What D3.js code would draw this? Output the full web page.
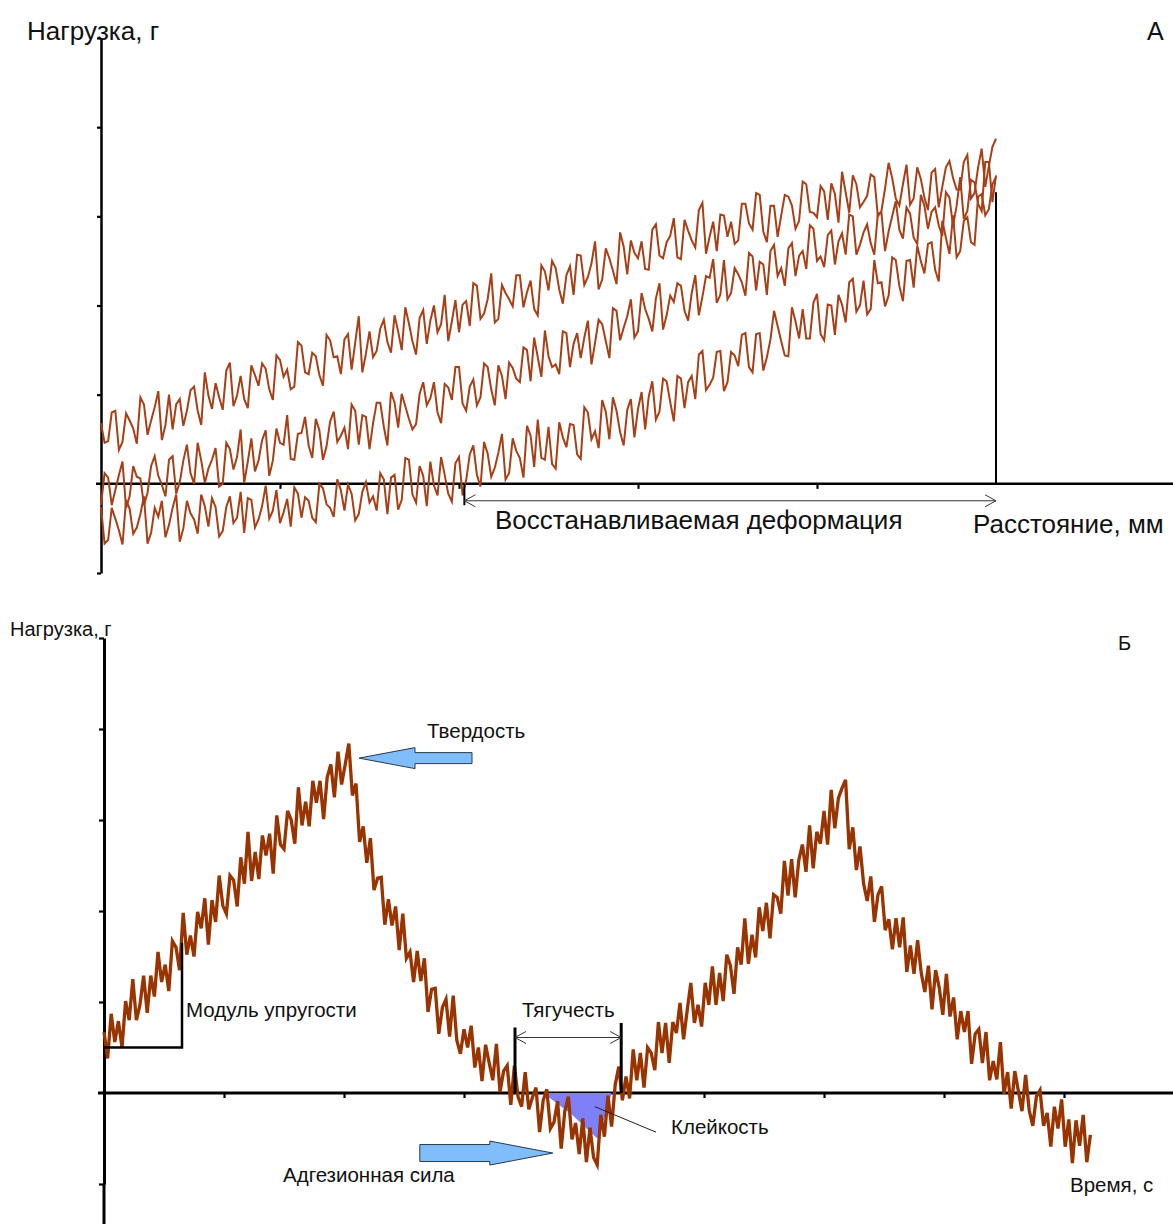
<!DOCTYPE html>
<html>
<head>
<meta charset="utf-8">
<script src="https://cdn.jsdelivr.net/npm/d3@7"></script>
<style>
    body { margin: 0; background: #fff; }
    text { font-family: Arial, "Liberation Sans", sans-serif; fill: #111; }
</style>
</head>
<body>
<svg id="chart" width="1173" height="1224"></svg>
<script>
// ---- данные, панель А (расстояние, мм / нагрузка, г) ----
const stepA = 0.02;
const xTicksA = [1, 2, 3, 4];
const yTicksA = [-100, 100, 200, 300, 400, 500];

// первое сжатие (верхняя кривая)
const loadA1 = [
    68,46,48,80,82,38,47,79,71,62,45,97,89,55,71,86,104,49,66,100,
    61,89,95,65,82,105,109,82,66,125,99,84,113,97,83,127,136,87,99,121,
    95,85,133,122,110,135,129,106,94,144,139,120,128,106,109,159,155,125,123,147,
    143,122,110,167,161,142,143,123,162,168,128,158,188,125,146,171,142,149,174,184,
    159,147,189,171,150,198,180,160,145,186,195,157,183,200,170,179,212,160,182,206,
    170,201,205,177,225,222,185,191,207,236,181,185,223,214,207,199,234,234,198,215,
    228,196,189,245,238,217,250,242,218,202,234,244,212,257,256,223,232,247,272,218,
    229,264,253,239,224,282,266,235,273,259,253,272,241,240,285,291,256,253,271,278,
    298,254,252,296,284,273,265,307,315,258,277,294,261,302,301,277,294,269,273,314,
    314,292,285,326,324,283,271,312,312,277,301,324,322,312,286,295,339,336,305,304,
    299,334,328,296,337,325,293,350,327,304,346,336,310,316,323,347,344,300,306,331,
    360,343,320,312,336,358,313,320,355,342,321,307,349,353,310,333,355,362,343,330,
    330,361,369,320,326,355,376,333,356,378,387
];
// второе сжатие (средняя кривая)
const loadA2 = [
    -24,12,7,-24,-7,10,25,-27,-14,20,8,6,-24,-10,20,31,9,-1,-14,27,
    31,-11,2,26,44,12,0,46,26,1,17,27,40,-3,0,46,39,16,30,61,
    1,25,51,14,26,49,60,9,26,62,46,44,77,28,27,56,57,75,43,29,
    73,60,27,42,70,81,47,54,63,39,89,82,44,77,75,39,68,91,91,64,
    43,103,91,63,101,87,73,61,67,101,114,88,96,114,80,68,112,108,94,131,
    131,90,82,109,117,88,97,135,131,106,88,133,121,95,136,130,118,114,153,150,
    115,164,142,120,172,143,131,134,123,171,169,131,157,169,141,164,183,134,158,184,
    179,160,141,197,194,161,175,188,207,164,171,214,196,185,171,208,225,173,189,211,
    204,225,222,194,183,214,234,189,210,233,231,252,203,212,251,207,214,242,235,226,
    211,259,255,217,249,246,212,261,268,233,242,222,264,270,233,256,261,241,290,286,
    250,255,243,279,284,246,272,281,257,302,300,257,268,282,291,270,257,303,304,261,
    283,300,317,285,275,310,303,276,269,324,312,286,305,310,290,278,327,321,289,312,
    344,297,306,341,338,314,306,361,361,316,346
];
// разгрузка (нижняя кривая)
const loadA3 = [
    -26,-67,-63,-27,-39,-52,-68,-18,-28,-56,-49,-34,-14,-67,-55,-27,-37,-19,-60,-46,
    -27,-12,-65,-50,-19,-33,-40,-56,-12,-25,-48,-16,-26,-59,-53,-26,-14,-44,-38,-9,
    -55,-16,-18,-49,-40,-25,-2,-39,-30,-7,-44,-32,-17,-48,-4,-11,-38,-15,-19,-38,
    -43,0,-5,-23,-27,-37,5,-7,-30,-1,-11,-41,-34,-9,2,-21,-14,-30,12,5,
    -34,7,10,-29,-18,29,27,-12,-21,20,9,-25,25,-2,-13,30,10,-11,-20,23,
    30,-13,4,33,43,10,-3,47,34,8,18,35,56,5,12,51,37,29,7,65,
    54,19,72,29,27,64,22,17,69,52,41,67,66,33,28,86,80,50,59,40,
    94,81,50,97,82,58,43,83,95,52,84,103,61,98,115,72,81,118,115,92,
    70,121,118,85,114,121,95,145,149,105,111,119,148,149,104,114,148,144,132,167,
    169,131,125,168,169,127,142,162,194,177,160,144,143,198,182,163,196,163,163,203,
    213,168,161,201,200,167,212,201,181,226,230,193,200,228,190,196,251,225,226,199,
    211,254,251,222,205,250,251,220,267,250,236,269,271,240,227,295,276,258,301,254,
    261,295,299,271,268,322,325,301,308,336,344
];
const recoverA = [2.03, 5];      // восстанавливаемая деформация, мм
const maxLineA = 327;            // вертикаль в точке максимума

// ---- данные, панель Б (время, с / нагрузка, г) ----
const stepB = 0.03;
const xTicksB = [1, 2, 3, 4, 5, 6, 7, 8];
const yTicksB = [-100, 100, 200, 300, 400, 500];
const loadB = [
    67,38,87,56,79,50,101,80,125,80,
    97,129,88,129,106,155,122,141,112,167,
    160,135,198,152,173,150,199,181,214,163,
    212,188,239,206,197,239,234,205,259,230,
    287,233,265,235,283,261,285,241,305,273,
    268,310,300,274,336,294,320,293,343,319,
    343,301,347,361,325,375,339,361,384,327,
    340,276,293,253,280,223,236,237,185,213,
    184,205,157,197,148,155,122,156,123,148,
    89,114,115,65,94,103,62,107,58,43,
    70,50,74,28,50,13,53,33,14,54,
    1,24,30,-13,30,-4,-15,23,-18,-5,
    6,-43,-8,4,-39,-32,-9,-61,-20,-4,
    -51,-33,-67,-28,-76,-38,-71,-79,-24,-48,
    -3,-37,9,29,-8,18,-6,48,14,44,
    6,50,44,25,78,44,77,33,78,66,
    99,59,91,121,77,97,73,121,97,139,
    97,132,101,152,140,109,160,141,192,142,
    174,149,204,178,209,170,218,215,197,255,
    217,257,215,256,273,243,294,247,287,274,
    310,273,333,291,324,335,344,268,292,245,
    271,230,211,238,188,218,227,179,191,158,
    192,160,193,133,162,131,168,132,111,140,
    92,135,116,86,131,84,105,59,90,67,
    90,32,65,70,33,67,14,35,15,56,
    -1,23,-17,24,2,-20,20,-19,-36,-4,
    3,-36,-22,-59,-15,-39,-7,-59,-29,-77,
    -30,-58,-24,-76,-46
];
const adhesionArea = [[3.66, 0], [4.23, 0], [4.17, -28], [4.11, -50], [3.9, -24]];
const modulusBracket = [[0, 50], [0.65, 50], [0.65, 165]];
const stringiness = [3.425, 4.31];
const hardnessTip = [2.125, 368];
const adhesionTip = [3.74, -66];
const tackLeader = [[4.09, -15], [4.6, -43]];

const svg = d3.select('#chart');

function toPoints(arr, step) {
    return arr.map((v, i) => [i * step, v]);
}

// размерная линия со стрелками "V"
function dimLine(g, x1, x2, y) {
    g.append('line')
        .attr('x1', x1).attr('x2', x2).attr('y1', y).attr('y2', y)
        .attr('stroke', '#333').attr('stroke-width', 1);
    g.append('path')
        .attr('d', `M${x1 + 11},${y - 6}L${x1},${y}L${x1 + 11},${y + 6}`)
        .attr('fill', 'none').attr('stroke', '#333').attr('stroke-width', 1);
    g.append('path')
        .attr('d', `M${x2 - 11},${y - 6}L${x2},${y}L${x2 - 11},${y + 6}`)
        .attr('fill', 'none').attr('stroke', '#333').attr('stroke-width', 1);
}

// толстая голубая стрелка, dir = 1 -> хвост справа
function blockArrow(g, tx, ty, dir, headLen, headHalf, bodyLen, bodyHalf) {
    const pts = [
        [0, 0], [dir * headLen, -headHalf], [dir * headLen, -bodyHalf],
        [dir * (headLen + bodyLen), -bodyHalf], [dir * (headLen + bodyLen), bodyHalf],
        [dir * headLen, bodyHalf], [dir * headLen, headHalf]
    ];
    g.append('path')
        .attr('d', 'M' + pts.map(p => (tx + p[0]) + ',' + (ty + p[1])).join('L') + 'Z')
        .attr('fill', '#80bdfb').attr('stroke', '#2a3a4a').attr('stroke-width', 1);
}

function styleAxis(g, w) {
    g.select('.domain').attr('stroke', '#000').attr('stroke-width', w);
    g.selectAll('.tick line').attr('stroke', '#000').attr('stroke-width', 2.2);
}

// ================= ПАНЕЛЬ А =================
const xA = d3.scaleLinear().domain([0, 5]).range([101, 996]);
const yA = d3.scaleLinear().domain([-100, 500]).range([573, 38]);
const gA = svg.append('g');

gA.append('line')
    .attr('x1', xA(0) - 5).attr('x2', 1173)
    .attr('y1', yA(0)).attr('y2', yA(0))
    .attr('stroke', '#000').attr('stroke-width', 2.5);

const axA_x = gA.append('g')
    .attr('transform', `translate(0,${yA(0)})`)
    .call(d3.axisBottom(xA).tickValues(xTicksA).tickSize(5).tickFormat(''));
axA_x.select('.domain').remove();
styleAxis(axA_x, 2.5);

const axA_y = gA.append('g')
    .attr('transform', `translate(${xA(0)},0)`)
    .call(d3.axisLeft(yA).tickValues(yTicksA).tickSize(4).tickSizeOuter(0).tickFormat(''));
styleAxis(axA_y, 2.5);

// вертикаль в максимуме
gA.append('line')
    .attr('x1', xA(5)).attr('x2', xA(5))
    .attr('y1', yA(0)).attr('y2', yA(maxLineA))
    .attr('stroke', '#000').attr('stroke-width', 2);

const lineA = d3.line().x(d => xA(d[0])).y(d => yA(d[1]));
[loadA3, loadA2, loadA1].forEach(arr => {
    gA.append('path')
        .datum(toPoints(arr, stepA))
        .attr('d', lineA)
        .attr('fill', 'none')
        .attr('stroke', '#a83f16')
        .attr('stroke-width', 2);
});

// восстанавливаемая деформация
gA.append('line')
    .attr('x1', xA(recoverA[0])).attr('x2', xA(recoverA[0]))
    .attr('y1', yA(0)).attr('y2', yA(-24))
    .attr('stroke', '#000').attr('stroke-width', 2);
dimLine(gA, xA(recoverA[0]), xA(recoverA[1]), yA(-19));

gA.append('text').attr('x', 27).attr('y', 40).style('font-size', '26px').text('Нагрузка, г');
gA.append('text').attr('x', 1147).attr('y', 40).style('font-size', '25px').text('А');
gA.append('text').attr('x', 495).attr('y', 529).style('font-size', '26px').text('Восстанавливаемая деформация');
gA.append('text').attr('x', 973).attr('y', 533).style('font-size', '26px').text('Расстояние, мм');

// ================= ПАНЕЛЬ Б =================
const xB = d3.scaleLinear().domain([0, 9]).range([104, 1184]);
const yB = d3.scaleLinear().domain([-100, 500]).range([1184, 638]);
const gB = svg.append('g');

gB.append('line')
    .attr('x1', xB(0) - 6).attr('x2', 1173)
    .attr('y1', yB(0)).attr('y2', yB(0))
    .attr('stroke', '#000').attr('stroke-width', 3);

const axB_x = gB.append('g')
    .attr('transform', `translate(0,${yB(0)})`)
    .call(d3.axisBottom(xB).tickValues(xTicksB).tickSize(5).tickFormat(''));
axB_x.select('.domain').remove();
styleAxis(axB_x, 3);

const axB_y = gB.append('g')
    .attr('transform', `translate(${xB(0)},0)`)
    .call(d3.axisLeft(yB).tickValues(yTicksB).tickSize(5).tickSizeOuter(0).tickFormat(''));
styleAxis(axB_y, 3);
// ось продолжается до низа
gB.append('line')
    .attr('x1', xB(0)).attr('x2', xB(0))
    .attr('y1', yB(-100)).attr('y2', 1224)
    .attr('stroke', '#000').attr('stroke-width', 3);

// клейкость (площадь)
gB.append('path')
    .datum(adhesionArea)
    .attr('d', d3.line().x(d => xB(d[0])).y(d => yB(d[1])).curve(d3.curveLinearClosed))
    .attr('fill', '#7f7ff8');

const lineB = d3.line().x(d => xB(d[0])).y(d => yB(d[1]));
gB.append('path')
    .datum(toPoints(loadB, stepB))
    .attr('d', lineB)
    .attr('fill', 'none')
    .attr('stroke', '#993300')
    .attr('stroke-width', 3.3);

// модуль упругости
gB.append('path')
    .datum(modulusBracket)
    .attr('d', lineB)
    .attr('fill', 'none').attr('stroke', '#000').attr('stroke-width', 2.5);

// тягучесть
stringiness.forEach((t, i) => {
    gB.append('line')
        .attr('x1', xB(t)).attr('x2', xB(t))
        .attr('y1', yB(0)).attr('y2', yB(i === 0 ? 72 : 77))
        .attr('stroke', '#000').attr('stroke-width', 3);
});
dimLine(gB, xB(stringiness[0]), xB(stringiness[1]), yB(61));

// выноска "Клейкость"
gB.append('line')
    .attr('x1', xB(tackLeader[0][0])).attr('y1', yB(tackLeader[0][1]))
    .attr('x2', xB(tackLeader[1][0])).attr('y2', yB(tackLeader[1][1]))
    .attr('stroke', '#222').attr('stroke-width', 1);

blockArrow(gB, xB(hardnessTip[0]), yB(hardnessTip[1]), 1, 56, 10.5, 57, 5.5);
blockArrow(gB, xB(adhesionTip[0]), yB(adhesionTip[1]), -1, 63, 12, 70, 8.5);

gB.append('text').attr('x', 10).attr('y', 636).style('font-size', '20px').text('Нагрузка, г');
gB.append('text').attr('x', 1118).attr('y', 650).style('font-size', '20px').text('Б');
gB.append('text').attr('x', 427).attr('y', 738).style('font-size', '20.5px').text('Твердость');
gB.append('text').attr('x', 186).attr('y', 1017).style('font-size', '20.5px').text('Модуль упругости');
gB.append('text').attr('x', 522).attr('y', 1017).style('font-size', '20.5px').text('Тягучесть');
gB.append('text').attr('x', 671).attr('y', 1134).style('font-size', '20.5px').text('Клейкость');
gB.append('text').attr('x', 283).attr('y', 1182).style('font-size', '20.5px').text('Адгезионная сила');
gB.append('text').attr('x', 1070).attr('y', 1192).style('font-size', '20.5px').text('Время, с');
</script>
</body>
</html>
